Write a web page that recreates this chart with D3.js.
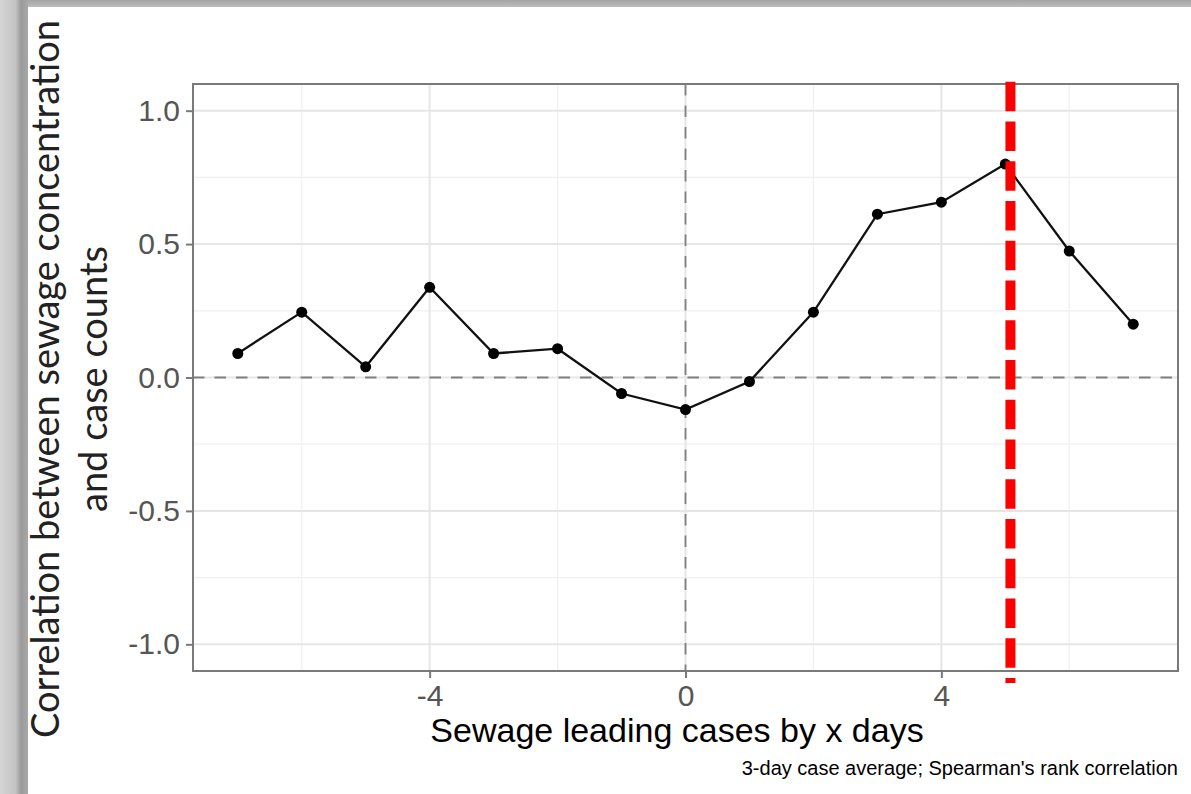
<!DOCTYPE html>
<html>
<head>
<meta charset="utf-8">
<script src="https://cdn.jsdelivr.net/npm/d3@7"></script>
<style>
  html, body { margin: 0; padding: 0; background: #fff; }
  svg { display: block; }
</style>
</head>
<body>
<div id="chart"></div>
<script>
// lag in days (sewage leading cases) and the correlation for each
const lagDays = [-7, -6, -5, -4, -3, -2, -1, 0, 1, 2, 3, 4, 5, 6, 7];
const correlation = [0.09, 0.245, 0.04, 0.338, 0.09, 0.108, -0.06, -0.12, -0.015, 0.245, 0.612, 0.657, 0.80, 0.474, 0.20];
const xTicks = [-4, 0, 4];
const xMinor = [-6, -2, 2, 6];
const yTicks = [-1.0, -0.5, 0.0, 0.5, 1.0];
const yMinor = [-0.75, -0.25, 0.25, 0.75];
const bestLag = [5.08];

const width = 1191, height = 794;
const panel = { left: 193, right: 1178, top: 84, bottom: 671 };

const svg = d3.select('#chart')
  .append('svg')
  .attr('width', width)
  .attr('height', height);

// grey frame around the picture (top + left)
const defs = svg.append('defs');
const gl = defs.append('linearGradient').attr('id', 'leftShade')
  .attr('x1', 0).attr('x2', 1).attr('y1', 0).attr('y2', 0);
gl.append('stop').attr('offset', '0%').attr('stop-color', '#d4d4d4');
gl.append('stop').attr('offset', '55%').attr('stop-color', '#c4c4c4');
gl.append('stop').attr('offset', '75%').attr('stop-color', '#9a9a9a');
gl.append('stop').attr('offset', '100%').attr('stop-color', '#a8a8a8');
const gt = defs.append('linearGradient').attr('id', 'topShade')
  .attr('x1', 0).attr('x2', 0).attr('y1', 0).attr('y2', 1);
gt.append('stop').attr('offset', '0%').attr('stop-color', '#a4a4a4');
gt.append('stop').attr('offset', '100%').attr('stop-color', '#bdbdbd');

svg.append('rect').attr('x', 0).attr('y', 0).attr('width', width).attr('height', 7)
  .attr('fill', 'url(#topShade)');
svg.append('rect').attr('x', 0).attr('y', 0).attr('width', 28).attr('height', height)
  .attr('fill', 'url(#leftShade)');

const x = d3.scaleLinear().domain([-7.7, 7.7]).range([panel.left, panel.right]);
const y = d3.scaleLinear().domain([-1.1, 1.1]).range([panel.bottom, panel.top]);

const g = svg.append('g');

// grid
g.selectAll('.xminor').data(xMinor).enter().append('line')
  .attr('x1', d => x(d)).attr('x2', d => x(d))
  .attr('y1', panel.top).attr('y2', panel.bottom)
  .attr('stroke', '#f0f0f0').attr('stroke-width', 1.2);
g.selectAll('.yminor').data(yMinor).enter().append('line')
  .attr('y1', d => y(d)).attr('y2', d => y(d))
  .attr('x1', panel.left).attr('x2', panel.right)
  .attr('stroke', '#f0f0f0').attr('stroke-width', 1.2);
g.selectAll('.xmajor').data(xTicks).enter().append('line')
  .attr('x1', d => x(d)).attr('x2', d => x(d))
  .attr('y1', panel.top).attr('y2', panel.bottom)
  .attr('stroke', '#e6e6e6').attr('stroke-width', 2);
g.selectAll('.ymajor').data(yTicks).enter().append('line')
  .attr('y1', d => y(d)).attr('y2', d => y(d))
  .attr('x1', panel.left).attr('x2', panel.right)
  .attr('stroke', '#e6e6e6').attr('stroke-width', 2);

// zero reference lines
g.append('line')
  .attr('x1', panel.left).attr('x2', panel.right)
  .attr('y1', y(0)).attr('y2', y(0))
  .attr('stroke', '#808080').attr('stroke-width', 1.8)
  .attr('stroke-dasharray', '11.5,10');
g.append('line')
  .attr('x1', x(0)).attr('x2', x(0))
  .attr('y1', panel.top).attr('y2', panel.bottom)
  .attr('stroke', '#808080').attr('stroke-width', 1.8)
  .attr('stroke-dasharray', '11.5,10');

// line + points
const pts = lagDays.map((d, i) => ({ lag: d, r: correlation[i] }));
const line = d3.line().x(d => x(d.lag)).y(d => y(d.r));
g.append('path')
  .datum(pts)
  .attr('d', line)
  .attr('fill', 'none')
  .attr('stroke', '#111')
  .attr('stroke-width', 2.3);
g.selectAll('.pt').data(pts).enter().append('circle')
  .attr('cx', d => x(d.lag)).attr('cy', d => y(d.r))
  .attr('r', 5.5).attr('fill', '#000');

// panel border
g.append('rect')
  .attr('x', panel.left).attr('y', panel.top)
  .attr('width', panel.right - panel.left).attr('height', panel.bottom - panel.top)
  .attr('fill', 'none').attr('stroke', '#7a7a7a').attr('stroke-width', 2);

// axes
const xAxis = svg.append('g')
  .attr('transform', `translate(0,${panel.bottom})`)
  .call(d3.axisBottom(x).tickValues(xTicks).tickSize(7).tickPadding(7).tickFormat(d3.format('d')));
const yAxis = svg.append('g')
  .attr('transform', `translate(${panel.left},0)`)
  .call(d3.axisLeft(y).tickValues(yTicks).tickSize(7).tickPadding(6).tickFormat(d3.format('.1f')));
[xAxis, yAxis].forEach(ax => {
  ax.select('.domain').remove();
  ax.selectAll('.tick line').attr('stroke', '#7a7a7a').attr('stroke-width', 2);
  ax.selectAll('.tick text')
    .attr('fill', '#555')
    .style('font-family', '"Liberation Sans", Arial, sans-serif')
    .style('font-size', '30px');
});
// ggplot uses a plain hyphen here
yAxis.selectAll('.tick text').text(d => d3.format('.1f')(d).replace('−', '-'));
xAxis.selectAll('.tick text').text(d => String(d));

// red dashed marker at the best lag
svg.selectAll('.best').data(bestLag).enter().append('line')
  .attr('x1', d => x(d)).attr('x2', d => x(d))
  .attr('y1', 81.7).attr('y2', 683)
  .attr('stroke', '#ff0000').attr('stroke-width', 10)
  .attr('stroke-dasharray', '29.5,10.25');

// titles
svg.append('text')
  .attr('x', 677)
  .attr('y', 742)
  .attr('text-anchor', 'middle')
  .style('font-family', '"Liberation Sans", Arial, sans-serif')
  .style('font-size', '34px')
  .attr('fill', '#000')
  .text('Sewage leading cases by x days');

const yTitle = svg.append('g')
  .attr('transform', `translate(0,379) rotate(-90)`);
const t1 = yTitle.append('text')
  .attr('x', 0).attr('y', 59)
  .attr('text-anchor', 'middle')
  .style('font-family', 'Lato, "Open Sans", sans-serif')
  .style('font-size', '32px')
  .attr('fill', '#222')
  .text('Correlation between sewage concentration');
const t2 = yTitle.append('text')
  .attr('x', 0).attr('y', 107)
  .attr('text-anchor', 'middle')
  .style('font-family', 'Lato, "Open Sans", sans-serif')
  .style('font-size', '32px')
  .attr('fill', '#222')
  .text('and case counts');
// fit the first line to its width in the picture
const fs = 32 * 718 / t1.node().getComputedTextLength();
t1.style('font-size', fs + 'px');
t2.style('font-size', fs + 'px');

svg.append('text')
  .attr('x', panel.right)
  .attr('y', 775)
  .attr('text-anchor', 'end')
  .style('font-family', '"Liberation Sans", Arial, sans-serif')
  .style('font-size', '20px')
  .attr('fill', '#000')
  .text("3-day case average; Spearman's rank correlation");
</script>
</body>
</html>
